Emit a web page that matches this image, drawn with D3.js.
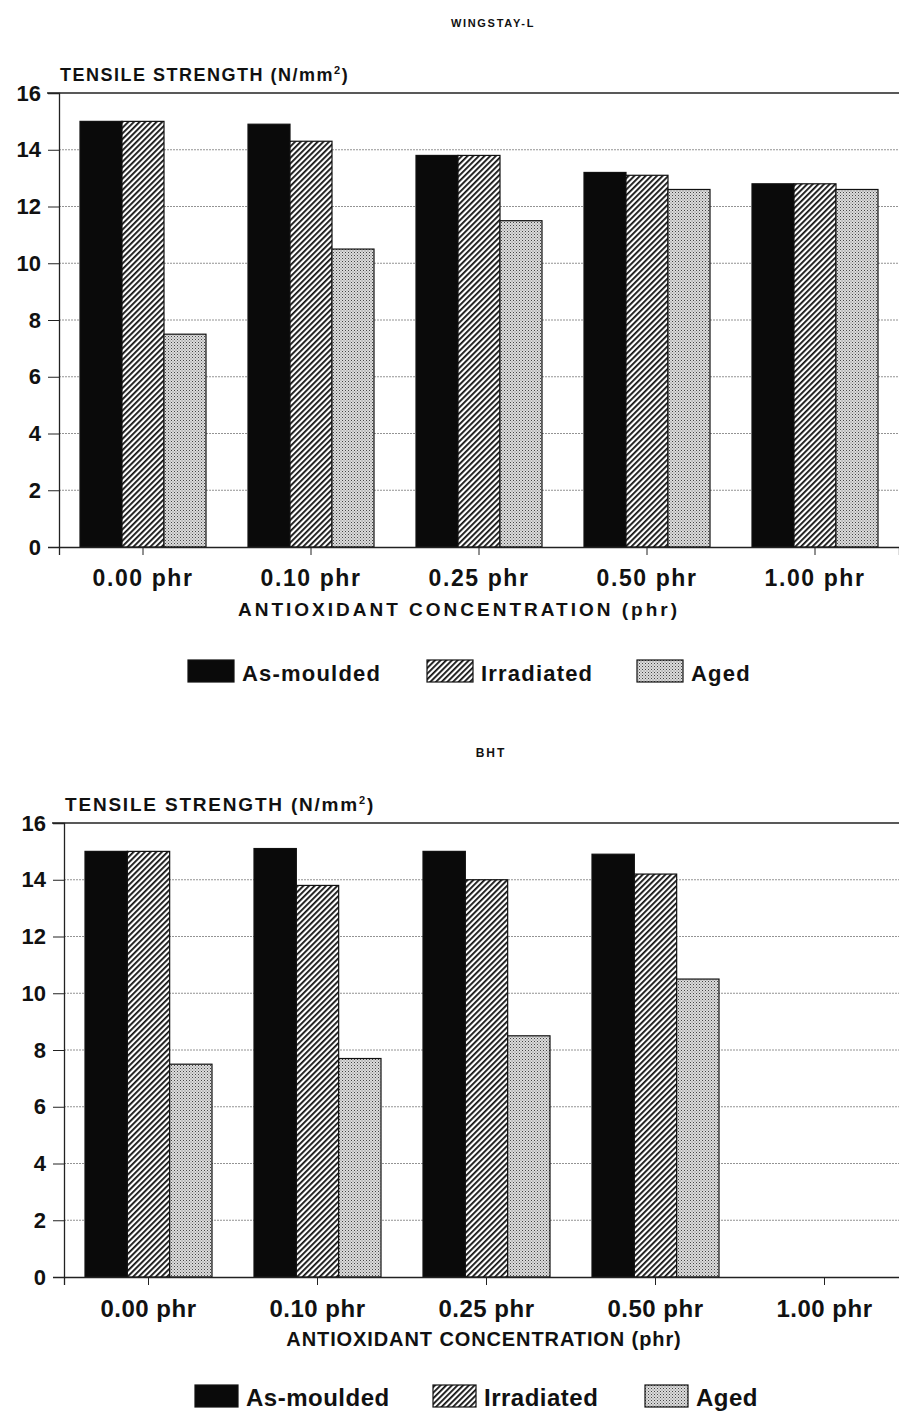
<!DOCTYPE html>
<html>
<head>
<meta charset="utf-8">
<script src="https://cdn.jsdelivr.net/npm/d3@7"></script>
<style>
  body { margin: 0; background: #fff; }
  svg { display: block; }
  text { font-family: "Liberation Sans", Arial, sans-serif; font-weight: bold; fill: #111; }
</style>
</head>
<body>
<div id="chart"></div>
<script>
const categories = ['0.00 phr', '0.10 phr', '0.25 phr', '0.50 phr', '1.00 phr'];
const seriesNames = ['As-moulded', 'Irradiated', 'Aged'];
const yTicks = [0, 2, 4, 6, 8, 10, 12, 14, 16];

// WINGSTAY-L panel
const wingAsMoulded = [15.0, 14.9, 13.8, 13.2, 12.8];
const wingIrradiated = [15.0, 14.3, 13.8, 13.1, 12.8];
const wingAged = [7.5, 10.5, 11.5, 12.6, 12.6];

// BHT panel (no bars at 1.00 phr)
const bhtAsMoulded = [15.0, 15.1, 15.0, 14.9, null];
const bhtIrradiated = [15.0, 13.8, 14.0, 14.2, null];
const bhtAged = [7.5, 7.7, 8.5, 10.5, null];

const W = 899, H = 1412;
const svg = d3.select('#chart').append('svg')
    .attr('width', W)
    .attr('height', H);

// fill patterns
const defs = svg.append('defs');
const hatch = defs.append('pattern')
    .attr('id', 'hatch')
    .attr('patternUnits', 'userSpaceOnUse')
    .attr('width', 4).attr('height', 4)
    .attr('patternTransform', 'rotate(-45)');
hatch.append('rect').attr('width', 4).attr('height', 4).attr('fill', '#fff');
hatch.append('rect').attr('width', 4).attr('height', 1.8).attr('fill', '#111');

const dots = defs.append('pattern')
    .attr('id', 'dots')
    .attr('patternUnits', 'userSpaceOnUse')
    .attr('width', 3).attr('height', 3);
dots.append('rect').attr('width', 3).attr('height', 3).attr('fill', '#dcdcdc');
dots.append('rect').attr('x', 0).attr('y', 0).attr('width', 1).attr('height', 1).attr('fill', '#444');
dots.append('rect').attr('x', 1.5).attr('y', 1.5).attr('width', 1).attr('height', 1).attr('fill', '#777');

const fills = ['#0a0a0a', 'url(#hatch)', 'url(#dots)'];

function drawPanel(opts) {
    const g = svg.append('g');
    const x = d3.scaleBand().domain(categories).range([opts.left, opts.right]);
    const x1 = d3.scaleBand().domain(seriesNames).range([21, x.bandwidth() - 21]);
    const y = d3.scaleLinear().domain([0, 16]).range([opts.bottom, opts.top]);
    const st = opts.style;

    // title
    g.append('text')
        .attr('x', opts.titleX).attr('y', opts.top - 66)
        .attr('text-anchor', 'middle')
        .style('font-size', st.title[0] + 'px')
        .style('letter-spacing', st.title[1] + 'px')
        .text(opts.title);

    // y label
    const yl = g.append('text')
        .attr('x', opts.left + 1).attr('y', opts.top - 12)
        .style('font-size', st.ylabel[0] + 'px')
        .style('letter-spacing', st.ylabel[1] + 'px')
        .text('TENSILE STRENGTH (N/mm');
    yl.append('tspan').attr('dy', -7).style('font-size', '11px').text('2');
    yl.append('tspan').attr('dy', 7).text(')');

    // gridlines
    g.append('g').selectAll('line')
        .data(yTicks.filter(d => d > 0 && d < 16))
        .join('line')
        .attr('x1', opts.left).attr('x2', W)
        .attr('y1', d => y(d)).attr('y2', d => y(d))
        .attr('stroke', '#777')
        .attr('stroke-width', 0.8)
        .attr('stroke-dasharray', '2,1');

    // top line at 16
    g.append('line')
        .attr('x1', opts.left - 12).attr('x2', W)
        .attr('y1', y(16)).attr('y2', y(16))
        .attr('stroke', '#222').attr('stroke-width', 1.3);

    // y axis
    const yAxis = g.append('g')
        .attr('transform', `translate(${opts.left},0)`)
        .call(d3.axisLeft(y).tickValues(yTicks).tickSize(11).tickPadding(7));
    yAxis.select('.domain').attr('stroke', '#222').attr('stroke-width', 1.3);
    yAxis.selectAll('.tick line').attr('stroke', '#222');
    yAxis.selectAll('.tick text')
        .style('font-size', '22px')
        .style('font-family', '"Liberation Sans", Arial, sans-serif')
        .style('font-weight', 'bold')
        .attr('fill', '#111');

    // bars
    const series = [opts.asMoulded, opts.irradiated, opts.aged];
    categories.forEach((cat, i) => {
        seriesNames.forEach((s, j) => {
            const v = series[j][i];
            if (v == null) return;
            g.append('rect')
                .attr('x', x(cat) + x1(s))
                .attr('y', y(v))
                .attr('width', x1.bandwidth())
                .attr('height', y(0) - y(v))
                .attr('fill', fills[j])
                .attr('stroke', '#111')
                .attr('stroke-width', 1.2);
        });
    });

    // x axis
    const xAxis = g.append('g')
        .attr('transform', `translate(0,${opts.bottom})`)
        .call(d3.axisBottom(x).tickSize(8).tickPadding(15));
    xAxis.select('.domain').attr('stroke', '#222').attr('stroke-width', 1.3);
    xAxis.selectAll('.tick line').attr('stroke', '#222');
    xAxis.selectAll('.tick text')
        .style('font-size', st.xtick[0] + 'px')
        .style('font-family', '"Liberation Sans", Arial, sans-serif')
        .style('font-weight', 'bold')
        .style('letter-spacing', st.xtick[1] + 'px')
        .attr('fill', '#111');

    // x title
    g.append('text')
        .attr('x', opts.xTitleX).attr('y', opts.bottom + 69)
        .attr('text-anchor', 'middle')
        .style('font-size', st.xtitle[0] + 'px')
        .style('letter-spacing', st.xtitle[1] + 'px')
        .text('ANTIOXIDANT CONCENTRATION (phr)');

    // legend
    const lg = g.append('g').attr('transform', `translate(0,${opts.legendY})`);
    seriesNames.forEach((s, j) => {
        lg.append('rect')
            .attr('x', opts.legendX[j]).attr('y', -21)
            .attr('width', opts.swatchW).attr('height', 22)
            .attr('fill', fills[j])
            .attr('stroke', '#111').attr('stroke-width', 1.2);
        lg.append('text')
            .attr('x', opts.legendX[j] + opts.swatchW + 8).attr('y', 0)
            .style('font-size', st.legend[0] + 'px')
            .style('letter-spacing', st.legend[1] + 'px')
            .text(s);
    });
}

drawPanel({
    title: 'WINGSTAY-L', titleX: 493,
    left: 59, right: 899, top: 93, bottom: 547,
    xTitleX: 459,
    legendY: 681, legendX: [188, 427, 637], swatchW: 46,
    asMoulded: wingAsMoulded, irradiated: wingIrradiated, aged: wingAged,
    style: { title: [11, 1.7], ylabel: [18, 1.5], xtick: [23, 1.6], xtitle: [19, 3], legend: [22, 1.2] }
});

drawPanel({
    title: 'BHT', titleX: 491,
    left: 64, right: 909, top: 823, bottom: 1277,
    xTitleX: 484,
    legendY: 1406, legendX: [195, 433, 645], swatchW: 43,
    asMoulded: bhtAsMoulded, irradiated: bhtIrradiated, aged: bhtAged,
    style: { title: [12, 2], ylabel: [19, 1.8], xtick: [24, 0.5], xtitle: [20, 0.9], legend: [24, 0.5] }
});
</script>
</body>
</html>
